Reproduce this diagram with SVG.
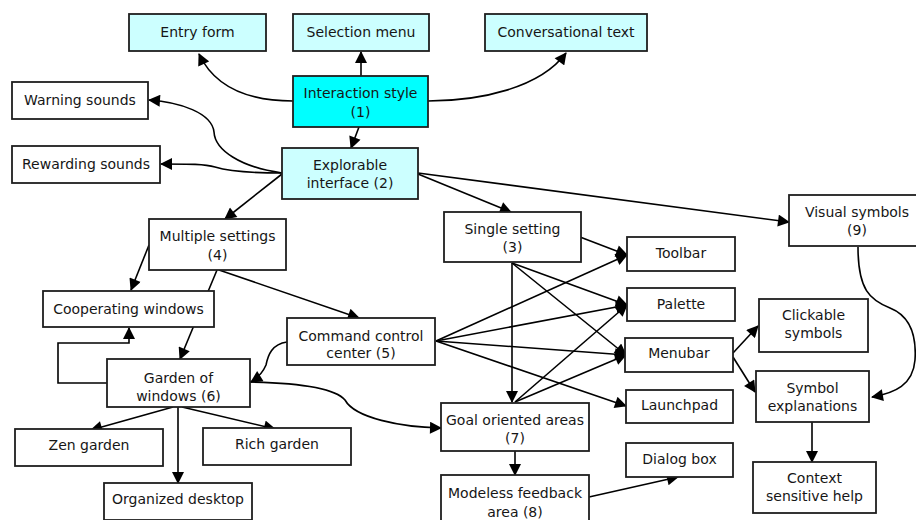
<svg xmlns="http://www.w3.org/2000/svg" width="916" height="520" viewBox="0 0 916 520">
<style>
.n rect{fill:#fff;stroke:#1e1e1e;stroke-width:1.8}
.c rect{fill:#ccffff}
.h rect{fill:#00ffff}
text{font-family:"DejaVu Sans","Liberation Sans",sans-serif;font-size:14px;fill:#161616;text-anchor:middle}
#edges path{fill:none;stroke:#000;stroke-width:1.6;marker-end:url(#a)}
</style>
<defs>
<marker id="a" viewBox="0 0 12 12" refX="11" refY="6" markerWidth="13" markerHeight="12" markerUnits="userSpaceOnUse" orient="auto">
<path d="M0,0 L12,6 L0,12 z" fill="#000"/>
</marker>
</defs>
<rect width="916" height="520" fill="#fff"/>
<g id="edges">
<path d="M293,101 C250,101 215,88 199,54"/>
<path d="M361,76 V52"/>
<path d="M428,101 C480,101 540,88 566,53"/>
<path d="M359,127 L351,148"/>
<path d="M282,173 C240,167 215,150 214,132 C212,113 180,102 149,100"/>
<path d="M282,173 C240,173 225,170 215,167 C205,164 190,164 161,164"/>
<path d="M282,174 L225,219"/>
<path d="M418,174 L511,212"/>
<path d="M418,173 L789,222"/>
<path d="M149,245 L131,290"/>
<path d="M217,270 L180,359"/>
<path d="M219,270 L359,318"/>
<path d="M107,383 H58 V343 H129 V328"/>
<path d="M287,342 C272,344 268,355 266,365 C263,372 259,377 251,382"/>
<path d="M250,382 C300,383 335,388 345,400 C355,418 400,427 441,428"/>
<path d="M173,407 L91,430"/>
<path d="M178,407 V483"/>
<path d="M182,407 L275,429"/>
<path d="M436,341 L627,255"/>
<path d="M436,341 L627,305"/>
<path d="M436,341 L626,355"/>
<path d="M436,341 L626,406"/>
<path d="M580,237 L627,255"/>
<path d="M512,263 L627,305"/>
<path d="M512,263 L626,355"/>
<path d="M512,263 V402"/>
<path d="M515,402 L627,305"/>
<path d="M515,402 L626,355"/>
<path d="M733,353 L758,326"/>
<path d="M733,357 L755,392"/>
<path d="M858,247 C858,290 870,300 890,308 C915,318 916,345 915,360 C913,385 895,393 872,397"/>
<path d="M812,422 V462"/>
<path d="M515,451 V475"/>
<path d="M589,497 L678,477"/>
</g>
<g id="entry" class="n c"><rect x="129" y="14" width="137" height="37"/><text x="197.5" y="37">Entry form</text></g>
<g id="selection" class="n c"><rect x="293" y="14" width="136" height="37"/><text x="361" y="37">Selection menu</text></g>
<g id="conversational" class="n c"><rect x="485" y="14" width="162" height="37"/><text x="566" y="37">Conversational text</text></g>
<g id="interaction" class="n h"><rect x="293" y="76" width="135" height="51"/><text x="360.5" y="98">Interaction style</text><text x="360.5" y="117">(1)</text></g>
<g id="warning" class="n"><rect x="12" y="82" width="136" height="37"/><text x="80" y="105">Warning sounds</text></g>
<g id="rewarding" class="n"><rect x="12" y="146" width="148" height="37"/><text x="86" y="169">Rewarding sounds</text></g>
<g id="explorable" class="n c"><rect x="282" y="148" width="136" height="51"/><text x="350" y="170">Explorable</text><text x="350" y="188">interface (2)</text></g>
<g id="multiple" class="n"><rect x="149" y="219" width="137" height="51"/><text x="217.5" y="241">Multiple settings</text><text x="217.5" y="260">(4)</text></g>
<g id="single" class="n"><rect x="444" y="212" width="137" height="50"/><text x="512.5" y="234">Single setting</text><text x="512.5" y="252">(3)</text></g>
<g id="visual" class="n"><rect x="789" y="195" width="136" height="51"/><text x="857" y="217">Visual symbols</text><text x="857" y="235">(9)</text></g>
<g id="cooperating" class="n"><rect x="43" y="291" width="171" height="36"/><text x="128.5" y="314">Cooperating windows</text></g>
<g id="command" class="n"><rect x="287" y="318" width="148" height="47"/><text x="361" y="341">Command control</text><text x="361" y="358">center (5)</text></g>
<g id="toolbar" class="n"><rect x="627" y="237" width="108" height="34"/><text x="681" y="258">Toolbar</text></g>
<g id="palette" class="n"><rect x="627" y="288" width="108" height="33"/><text x="681" y="309">Palette</text></g>
<g id="clickable" class="n"><rect x="759" y="299" width="109" height="53"/><text x="813.5" y="320">Clickable</text><text x="813.5" y="338">symbols</text></g>
<g id="menubar" class="n"><rect x="625" y="338" width="108" height="34"/><text x="679" y="358">Menubar</text></g>
<g id="garden" class="n"><rect x="107" y="359" width="143" height="48"/><text x="178.5" y="383">Garden of</text><text x="178.5" y="401">windows (6)</text></g>
<g id="symbolexp" class="n"><rect x="756" y="371" width="113" height="51"/><text x="812.5" y="393">Symbol</text><text x="812.5" y="411">explanations</text></g>
<g id="launchpad" class="n"><rect x="626" y="390" width="107" height="33"/><text x="679.5" y="410">Launchpad</text></g>
<g id="goal" class="n"><rect x="441" y="403" width="148" height="48"/><text x="515" y="425">Goal oriented areas</text><text x="515" y="443">(7)</text></g>
<g id="zen" class="n"><rect x="15" y="429" width="148" height="37"/><text x="89" y="450">Zen garden</text></g>
<g id="rich" class="n"><rect x="203" y="428" width="148" height="37"/><text x="277" y="449">Rich garden</text></g>
<g id="dialog" class="n"><rect x="626" y="443" width="107" height="34"/><text x="679.5" y="464">Dialog box</text></g>
<g id="context" class="n"><rect x="753" y="462" width="123" height="51"/><text x="814.5" y="483">Context</text><text x="814.5" y="501">sensitive help</text></g>
<g id="modeless" class="n"><rect x="441" y="475" width="148" height="47"/><text x="515" y="498">Modeless feedback</text><text x="515" y="517">area (8)</text></g>
<g id="organized" class="n"><rect x="104" y="483" width="148" height="37"/><text x="178" y="504">Organized desktop</text></g>
</svg>
